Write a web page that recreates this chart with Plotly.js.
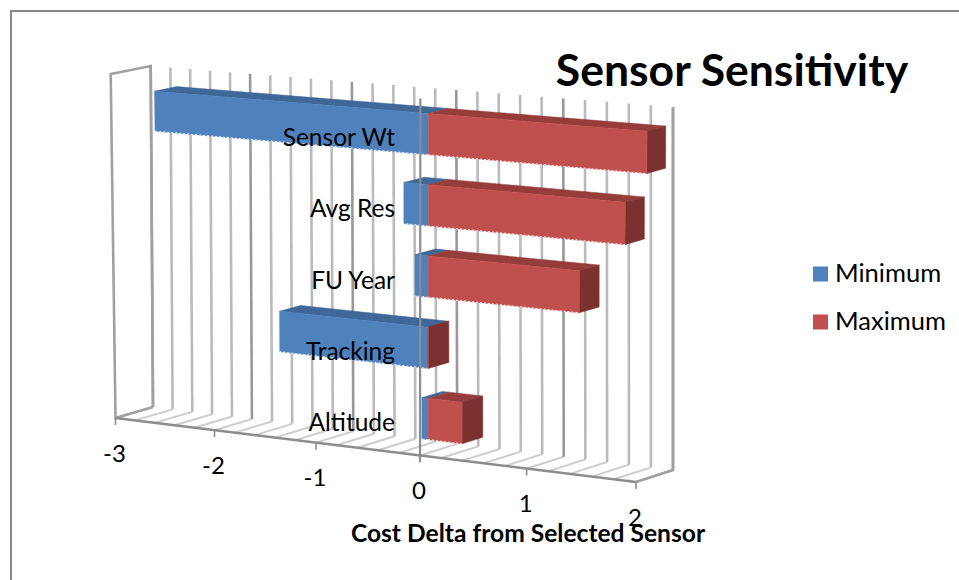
<!DOCTYPE html>
<html><head><meta charset="utf-8">
<script src="https://cdn.plot.ly/plotly-3.0.1.min.js"></script>
<style>html,body{margin:0;padding:0;background:#fff}#c{width:959px;height:580px}</style>
</head><body><div id="c"></div>
<script>
const categories = ['Altitude','Tracking','FU Year','Avg Res','Sensor Wt'];
const minimum = [-0.06,-1.43,-0.125,-0.23,-2.65];
const maximum = [0.32,0,1.40,1.81,2.0];
const seriesNames = ['Minimum','Maximum'];
const valueTicks = [-3,-2,-1,0,1,2];
const titleText = 'Sensor Sensitivity';
const axisTitle = 'Cost Delta from Selected Sensor';

// Oblique view of the chart box: value axis, height, depth -> plane position
const V0=-3, V1=2, W1=0.9398;
const box = {
  fb0:[115.5,418], ft0:[110.7,74], bb0:[153,407], bt0:[150.7,66],
  fb1:[636,482],   ft1:[640,116],  bb1:[673,470], bt1:[673,107]
};
function mix(a,b,f){return [a[0]+(b[0]-a[0])*f,a[1]+(b[1]-a[1])*f];}
function proj(v,h,d){
  const t=(v-V0)/(V1-V0), s=t*W1/((1-t)+t*W1);
  const p0=mix(mix(box.fb0,box.ft0,h),mix(box.bb0,box.bt0,h),d);
  const p1=mix(mix(box.fb1,box.ft1,h),mix(box.bb1,box.bt1,h),d);
  return mix(p0,p1,s);
}
function path(points){const x=[],y=[];points.forEach(p=>{if(p){x.push(p[0]);y.push(p[1]);}else{x.push(null);y.push(null);}});return {x,y};}
function line(pts,color,width,dash){const q=path(pts);return {x:q.x,y:q.y,mode:'lines',type:'scatter',line:{color,width,dash:dash||'solid'},hoverinfo:'skip',showlegend:false};}
function poly(pts,color){const q=path(pts);return {x:q.x,y:q.y,mode:'lines',type:'scatter',fill:'toself',fillcolor:color,line:{color,width:0.5},hoverinfo:'skip',showlegend:false};}

const traces=[];
// walls & gridlines
const minorV=[],majorV=[],floorV=[];
for(let i=0;i<=25;i++){
  const v=V0+i*0.2, major=i%5===0;
  (major?majorV:minorV).push(proj(v,0,1),proj(v,1,1),null);
  floorV.push(proj(v,0,0),proj(v,0,1),null);
}
traces.push(line(floorV,'#cdcdcd',2));
traces.push(line(minorV,'#bababa',2.6));
traces.push(line(majorV,'#989898',2.6));
traces.push(line([proj(V0,0,1),proj(V0,0,0),proj(V0,1,0),proj(V0,1,1),proj(V0,0,1)],'#a0a0a0',2.6));
traces.push(line([proj(V1,1,1),proj(V1,0,1),proj(V1,0,0)],'#a0a0a0',2.6));

// bars
const D0=0.22,D1=0.78,HH=0.058,HS=-0.005;
function faces(vals){
  const top=[],front=[],side=[],edge=[];
  vals.forEach((val,i)=>{
    const hc=(i+0.5)/categories.length+HS,h0=hc-HH,h1=hc+HH;
    front.push(proj(0,h0,D0),proj(val,h0,D0),proj(val,h1,D0),proj(0,h1,D0),proj(0,h0,D0),null);
    top.push(proj(0,h1,D0),proj(val,h1,D0),proj(val,h1,D1),proj(0,h1,D1),proj(0,h1,D0),null);
    side.push(proj(val,h0,D0),proj(val,h0,D1),proj(val,h1,D1),proj(val,h1,D0),proj(val,h0,D0),null);
    edge.push(proj(0,h0,D0),proj(val,h0,D0),null);
  });
  return {top,front,side,edge};
}
const fMin=faces(minimum), fMax=faces(maximum);
traces.push(poly(fMin.top,'#3f6797'));
traces.push(poly(fMin.front,'#4f81bd'));
traces.push(line(fMin.edge,'#dfe8f3',1.2,'2px,2px'));
traces.push(poly(fMax.top,'#963d3b'));
traces.push(poly(fMax.side,'#7a312f'));
traces.push(poly(fMax.front,'#c0504d'));
traces.push(line(fMax.edge,'#f3dcdb',1.2,'2px,2px'));

// value axis line, ticks
traces.push(line([proj(0,1,0),[proj(0,0,0)[0],proj(0,0,0)[1]+6]],'#8c8c8c',2.2));
const axisPts=[proj(V0,0,0),proj(V1,0,0)];
const tickPts=[];
valueTicks.forEach(v=>{const p=proj(v,0,0);tickPts.push(p,[p[0],p[1]+7],null);});
traces.push(line(axisPts,'#8c8c8c',2.4));
traces.push(line(tickPts,'#8c8c8c',1.6));

const FONT='Lato, "Open Sans", sans-serif';
// tick labels
const tlp=valueTicks.map(v=>{const p=proj(v,0,0);return [p[0]-1,p[1]+37.5];});
traces.push({x:tlp.map(p=>p[0]),y:tlp.map(p=>p[1]),text:valueTicks.map(String),mode:'text',type:'scatter',
  textfont:{family:FONT,size:24,color:'#000'},textposition:'middle center',cliponaxis:false,hoverinfo:'skip',showlegend:false});
// category labels
const clp=categories.map((c,i)=>{const h=(i+0.5)/categories.length+HS;const p=proj(0,h,D0);return [395,p[1]+6];});
traces.push({x:clp.map(p=>p[0]),y:clp.map(p=>p[1]),text:categories,mode:'text',type:'scatter',
  textfont:{family:FONT,size:24.5,color:'#000'},textposition:'middle left',cliponaxis:false,hoverinfo:'skip',showlegend:false});

// legend entries
const legendY=[274,322];
[['#4f81bd',0],['#c0504d',1]].forEach(([c,i])=>{
  traces.push({x:[820.5],y:[legendY[i]],name:seriesNames[i],mode:'markers',type:'scatter',
    marker:{symbol:'square',size:15,color:c},cliponaxis:false,hoverinfo:'skip',showlegend:false});
  traces.push({x:[835],y:[legendY[i]+2],text:[seriesNames[i]],mode:'text',type:'scatter',textposition:'middle right',cliponaxis:false,
    textfont:{family:FONT,size:25.5,color:'#000'},hoverinfo:'skip',showlegend:false});
});

const layout={
  width:959,height:580,paper_bgcolor:'#fff',plot_bgcolor:'rgba(0,0,0,0)',
  margin:{l:97,r:0,t:0,b:60,pad:0},
  title:{text:'<b>'+titleText+'</b>',font:{family:FONT,size:44.5,color:'#000'},x:(732-97)/862,xanchor:'center',xref:'paper',y:1-70/580,yanchor:'middle'},
  xaxis:{range:[97,959],showgrid:false,zeroline:false,showline:false,ticks:'',showticklabels:false,
    title:{text:'<b>'+axisTitle+'</b>',font:{family:FONT,size:24.6,color:'#000'},standoff:4},automargin:false,fixedrange:true},
  yaxis:{range:[520,0],visible:false,fixedrange:true},
  showlegend:false,
  shapes:[{type:'path',xref:'paper',yref:'paper',
    path:`M ${(11-97)/862} ${1-582/520} L ${(11-97)/862} ${1-11/520} L ${(960-97)/862} ${1-11/520}`,
    line:{color:'#888888',width:2},layer:'below'}]
};
Plotly.newPlot('c',traces,layout,{displayModeBar:false,staticPlot:true});
</script></body></html>
